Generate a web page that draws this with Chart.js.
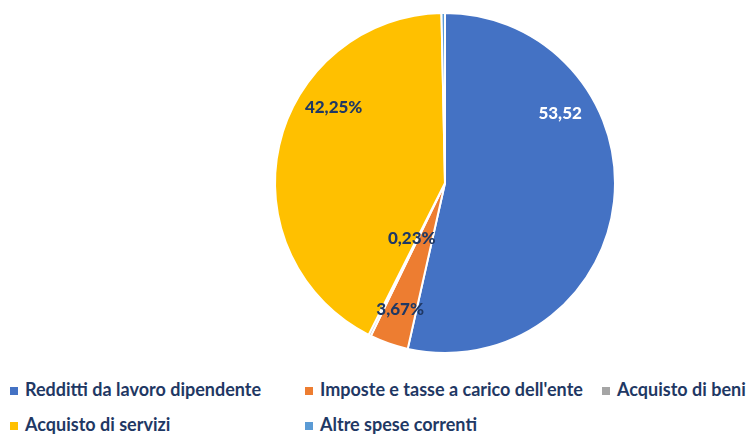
<!DOCTYPE html>
<html>
<head>
<meta charset="utf-8">
<script src="https://cdn.jsdelivr.net/npm/chart.js@4.4.0/dist/chart.umd.min.js"></script>
<style>
  body { margin: 0; background: #fff; width: 751px; height: 434px; overflow: hidden; position: relative; font-family: Lato, "Open Sans", sans-serif; }
  #wrap { position: absolute; left: 265px; top: 3px; width: 360px; height: 360px; }
  .leg { position: absolute; color: #1F3864; font-size: 18px; font-weight: bold; white-space: nowrap; line-height: 20px; }
  .leg span { display: inline-block; width: 8px; height: 8px; margin-right: 7px; vertical-align: 1px; }
</style>
</head>
<body>
<div id="wrap"><canvas id="pie"></canvas></div>
<div id="legend"></div>
<script>
// categories and values (% of current spending)
const categories = ['Redditti da lavoro dipendente', "Imposte e tasse a carico dell'ente", 'Acquisto di beni', 'Acquisto di servizi', 'Altre spese correnti'];
const values = [53.52, 3.67, 0.23, 42.25, 0.33];
const sliceLabels = ['53,52', '3,67%', '0,23%', '42,25%', ''];
const colors = ['#4472C4', '#ED7D31', '#A5A5A5', '#FFC000', '#5B9BD5'];
const labelColors = ['#ffffff', '#1F3864', '#1F3864', '#1F3864', '#1F3864'];

// where Excel put the data labels: angle (deg, clockwise from top) and fraction of radius
const labelAngle = [59, 199.5, 211, 304, 0];
const labelDist = [0.79, 0.79, 0.38, 0.79, 0];

// legend placement (rows/columns like the original)
const legendPos = [[10, 379], [305, 379], [602, 379], [10, 414], [305, 414]];

const sliceText = {
  id: 'sliceText',
  afterDatasetsDraw(chart) {
    const ctx = chart.ctx;
    const arcs = chart.getDatasetMeta(0).data;
    ctx.save();
    ctx.font = '900 17px Lato, "Open Sans", sans-serif';
    ctx.textAlign = 'center';
    ctx.textBaseline = 'middle';
    arcs.forEach((arc, i) => {
      if (!sliceLabels[i]) return;
      const a = (labelAngle[i] - 90) * Math.PI / 180;
      const r = arc.outerRadius * labelDist[i];
      ctx.fillStyle = labelColors[i];
      ctx.fillText(sliceLabels[i], arc.x + Math.cos(a) * r, arc.y + Math.sin(a) * r);
    });
    ctx.restore();
  }
};

new Chart(document.getElementById('pie'), {
  type: 'pie',
  data: {
    labels: categories,
    datasets: [{
      data: values,
      backgroundColor: colors,
      borderColor: '#ffffff',
      borderWidth: 2
    }]
  },
  options: {
    responsive: true,
    maintainAspectRatio: false,
    animation: false,
    radius: 170,
    plugins: {
      legend: { display: false },
      tooltip: { enabled: false }
    }
  },
  plugins: [sliceText]
});

// html legend
const legend = document.getElementById('legend');
categories.forEach((c, i) => {
  const d = document.createElement('div');
  d.className = 'leg';
  d.style.left = legendPos[i][0] + 'px';
  d.style.top = legendPos[i][1] + 'px';
  d.innerHTML = '<span style="background:' + colors[i] + '"></span>';
  d.appendChild(document.createTextNode(c));
  legend.appendChild(d);
});
</script>
</body>
</html>
